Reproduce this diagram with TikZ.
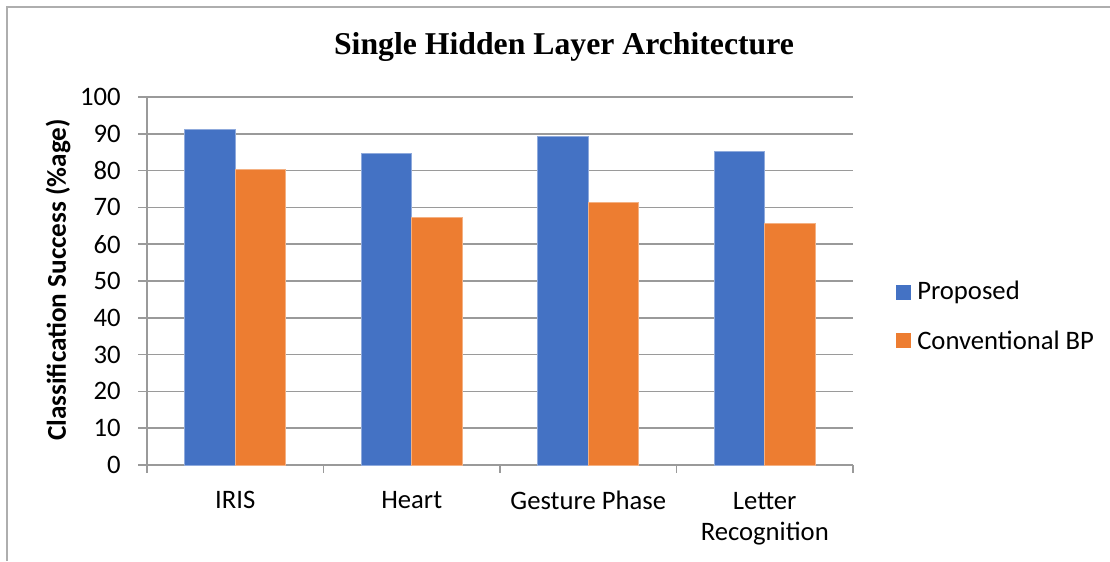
\documentclass[tikz,border=0pt]{standalone}
\usepackage{fontspec}
\setmainfont{Carlito}
\newfontfamily\titlefont{Liberation Serif}
\definecolor{propblue}{HTML}{4472C4}
\definecolor{convorange}{HTML}{ED7D31}
\definecolor{gridgray}{HTML}{9A9A9A}

\begin{document}
\begin{tikzpicture}[x=0.75pt,y=-0.75pt,
    gridline/.style={draw=gridgray,line width=1.1pt},
    framed/.style={draw=gridgray!80,line width=1.1pt},
    ticklab/.style={anchor=east,inner sep=0pt,font=\fontsize{20}{24}\selectfont},
    catlab/.style={align=center,inner sep=0pt,font=\fontsize{20}{23.5}\selectfont},
    barp/.style={fill=propblue,draw=propblue!60!white,line width=0.5pt},
    barc/.style={fill=convorange,draw=convorange!60!white,line width=0.5pt}]
    \useasboundingbox (0,0) rectangle (1110,561);
    % outer frame
    \draw[framed] (7,561) -- (7,7) -- (1110,7);
    % title
    \node[font=\titlefont\bfseries\fontsize{23.8}{28}\selectfont] (title) at (564,47) {Single Hidden Layer Architecture};
    % gridlines and tick labels
    \foreach \v in {0,10,...,100}{
        \draw[gridline] (138,{465-3.68*\v}) -- (853,{465-3.68*\v});
        \node[ticklab] (tick\v) at (121,{465-3.68*\v}) {\v};
    }
    \draw[gridline] (147,97) -- (147,465);
    \foreach \x in {147,323.5,500,676.5,853}
        \draw[gridline] (\x,465) -- (\x,473);
    % bars
    \foreach \c/\p/\q in {235.25/91.2/80.3, 411.75/84.7/67.3, 588.25/89.2/71.5, 764.75/85.3/65.7}{
        \draw[barp] ({\c-50.5},465) rectangle (\c,{465-3.68*\p});
        \draw[barc] (\c,465) rectangle ({\c+50.5},{465-3.68*\q});
    }
    % category labels
    \node[catlab] (iris) at (235.25,500) {IRIS};
    \node[catlab] (heart) at (411.75,500) {Heart};
    \node[catlab] (gesture) at (588.25,500) {Gesture Phase};
    \node[catlab] (letter) at (764.75,518.5) {Letter\\Recognition};
    % axis title
    \node[rotate=90,inner sep=0pt,font=\bfseries\fontsize{20.4}{24}\selectfont] (ylab) at (58,280) {Classification Success (\%age)};
    % legend
    \node[fill=propblue,inner sep=0pt,minimum size=11.25pt] (keyp) at (903.5,292) {};
    \node[anchor=west,inner sep=0pt,font=\fontsize{20}{24}\selectfont] (labp) at (917,292) {Proposed};
    \node[fill=convorange,inner sep=0pt,minimum size=11.25pt] (keyc) at (903.5,340) {};
    \node[anchor=west,inner sep=0pt,font=\fontsize{20}{24}\selectfont] (labc) at (917,340) {Conventional BP};
\end{tikzpicture}
\end{document}
